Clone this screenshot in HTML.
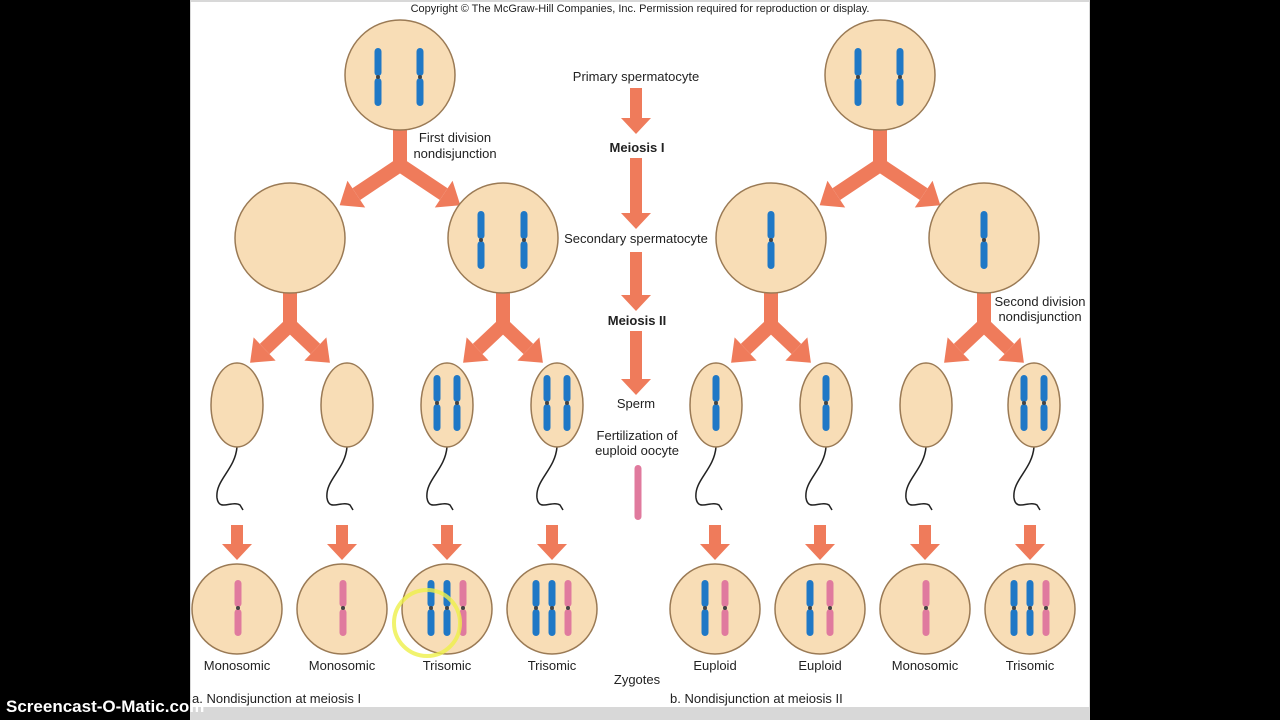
<!DOCTYPE html>
<html><head><meta charset="utf-8"><style>
html,body{margin:0;padding:0;background:#000;}
body{width:1280px;height:720px;overflow:hidden;position:relative;font-family:"Liberation Sans",sans-serif;}
svg{position:absolute;left:0;top:0;}
text{font-family:"Liberation Sans",sans-serif;fill:#222;}
</style></head><body>
<svg id="s" width="1280" height="720" viewBox="0 0 1280 720">
<rect x="0" y="0" width="1280" height="720" fill="#000"/>
<rect x="190" y="0" width="900" height="720" fill="#d8d8d8"/>
<rect x="191" y="2" width="898" height="705" fill="#fff"/>
<g id="g"></g>
<g font-size="13" text-anchor="middle">
<text x="640" y="12" font-size="11">Copyright © The McGraw-Hill Companies, Inc. Permission required for reproduction or display.</text>
<text x="636" y="81">Primary spermatocyte</text>
<text x="637" y="152" font-weight="bold">Meiosis I</text>
<text x="636" y="243">Secondary spermatocyte</text>
<text x="637" y="325" font-weight="bold">Meiosis II</text>
<text x="636" y="408">Sperm</text>
<text x="637" y="440">Fertilization of</text>
<text x="637" y="455">euploid oocyte</text>
<text x="455" y="142">First division</text>
<text x="455" y="158">nondisjunction</text>
<text x="1040" y="306">Second division</text>
<text x="1040" y="321">nondisjunction</text>
<text x="237" y="670">Monosomic</text>
<text x="342" y="670">Monosomic</text>
<text x="447" y="670">Trisomic</text>
<text x="552" y="670">Trisomic</text>
<text x="715" y="670">Euploid</text>
<text x="820" y="670">Euploid</text>
<text x="925" y="670">Monosomic</text>
<text x="1030" y="670">Trisomic</text>
<text x="637" y="684">Zygotes</text>
</g>
<g font-size="13">
<text x="192" y="703">a. Nondisjunction at meiosis I</text>
<text x="670" y="703">b. Nondisjunction at meiosis II</text>
</g>
<circle cx="427" cy="623" r="33" fill="none" stroke="#eef04a" stroke-width="4" opacity="0.8"/>
<text x="6" y="712" font-size="17" font-weight="bold" style="fill:#fff">Screencast-O-Matic.com</text>
</svg>
<script>
var g=document.getElementById('g'),NS='http://www.w3.org/2000/svg';
function el(t,a){var e=document.createElementNS(NS,t);for(var k in a)e.setAttribute(k,a[k]);g.appendChild(e);return e;}
var OR='#ef7b5b',CF='#f8ddb6',CS='#9a7a55',BL='#1f78c6',PK='#e07a9e';
function chrom(x,cy,h,c){el('rect',{x:x-3.5,y:cy-h/2,width:7,height:h/2-1,rx:3.5,fill:c});el('rect',{x:x-3.5,y:cy+1,width:7,height:h/2-1,rx:3.5,fill:c});el('circle',{cx:x,cy:cy,r:2,fill:'#444'});}
function circ(x,y,r){el('circle',{cx:x,cy:y,r:r,fill:CF,stroke:CS,'stroke-width':1.5});}
function down(x,y0,y1){el('rect',{x:x-6,y:y0,width:12,height:y1-y0-15,fill:OR});el('polygon',{points:(x-15)+','+(y1-16)+' '+(x+15)+','+(y1-16)+' '+x+','+y1,fill:OR});}
function ysplit(x,y0,yj,dx,y1){el('rect',{x:x-7,y:y0,width:14,height:yj-y0+4,fill:OR});
 [-1,1].forEach(function(s){var ex=x+s*dx,ey=y1;var ang=Math.atan2(ey-yj,ex-x);var L=Math.hypot(ex-x,ey-yj);var bx=x+Math.cos(ang)*(L-16),by=yj+Math.sin(ang)*(L-16);
 el('line',{x1:x,y1:yj,x2:bx,y2:by,stroke:OR,'stroke-width':14});
 var px=-Math.sin(ang),py=Math.cos(ang);el('polygon',{points:(bx+px*16)+','+(by+py*16)+' '+(bx-px*16)+','+(by-py*16)+' '+(ex+Math.cos(ang)*4)+','+(ey+Math.sin(ang)*4),fill:OR});});}
// top
[[400,75],[880,75]].forEach(function(p){ysplit(p[0],128,165,57,203);circ(p[0],p[1],55);chrom(p[0]-22,77,58,BL);chrom(p[0]+20,77,58,BL);});
// row2
[290,503,771,984].forEach(function(x){ysplit(x,290,325,37,360);circ(x,238,55);});
chrom(481,240,58,BL);chrom(524,240,58,BL);chrom(771,240,58,BL);chrom(984,240,58,BL);
// sperm
var sx=[237,347,447,557,716,826,926,1034];
var sc=[0,0,2,2,1,1,0,2];
sx.forEach(function(x,i){
 el('path',{d:'M'+x+' 447 C'+(x-2)+' 470 '+(x-22)+' 480 '+(x-20)+' 498 C'+(x-18)+' 512 '+(x-5)+' 500 '+(x+3)+' 505 L'+(x+6)+' 510',fill:'none',stroke:'#222','stroke-width':1.5});
 el('ellipse',{cx:x,cy:405,rx:26,ry:42,fill:CF,stroke:CS,'stroke-width':1.5});
 if(sc[i]==2){chrom(x-10,403,56,BL);chrom(x+10,403,56,BL);} else if(sc[i]==1){chrom(x,403,56,BL);}
});
// zygotes
var zx=[237,342,447,552,715,820,925,1030];
var zc=[[PK],[PK],[BL,BL,PK],[BL,BL,PK],[BL,PK],[BL,PK],[PK],[BL,BL,PK]];
zx.forEach(function(x,i){down(sx[i]===undefined?x:x,525,560);circ(x,609,45);var n=zc[i].length;var sp=n==3?16:(n==2?20:0);zc[i].forEach(function(c,j){chrom(x-sp*(n-1)/2+sp*j+(n==1?1:0),608,56,c);});});
// center arrows
down(636,88,134);down(636,158,229);down(636,252,311);down(636,331,395);
el('rect',{x:634.5,y:465,width:7,height:55,rx:3.5,fill:PK});
</script>
</body></html>
